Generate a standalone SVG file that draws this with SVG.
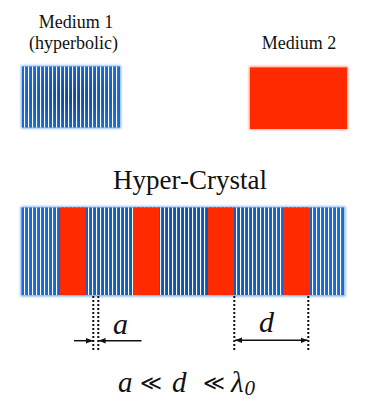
<svg xmlns="http://www.w3.org/2000/svg" width="367" height="420" viewBox="0 0 367 420">
<defs>
<style>
text{font-family:'Liberation Serif','Times New Roman',Tinos,'DejaVu Serif',serif;fill:#111;}
.it{font-style:italic;}
.sym{font-family:'DejaVu Serif','DejaVu Sans',serif;font-style:normal;}
.dot{stroke:#111;stroke-width:2;stroke-dasharray:2 2;fill:none;}
.dim{stroke:#111;stroke-width:1.5;fill:none;}
.red{fill:#ff2a00;}
</style>
<radialGradient id="blueGrad" cx="0.5" cy="0.5" r="0.6">
<stop offset="0" stop-color="#0c47a0"/>
<stop offset="1" stop-color="#1a6ad6"/>
</radialGradient>
<linearGradient id="blueBar" x1="0" y1="0" x2="1" y2="0">
<stop offset="0" stop-color="#1a6ad6"/>
<stop offset="0.5" stop-color="#1052ae"/>
<stop offset="1" stop-color="#1a6ad6"/>
</linearGradient>
<pattern id="stripes" patternUnits="userSpaceOnUse" x="24" y="0" width="4" height="10">
<rect x="0" y="0" width="1.1" height="10" fill="#ffffff"/>
</pattern>
<filter id="glowB" x="-10%" y="-20%" width="120%" height="140%">
<feGaussianBlur stdDeviation="1.3"/>
</filter>
<marker id="ah" viewBox="0 0 10 10" refX="10" refY="5" markerWidth="7" markerHeight="7" markerUnits="userSpaceOnUse" orient="auto-start-reverse">
<path d="M0,1 L10,5 L0,9 Z" fill="#111"/>
</marker>
</defs>
<rect width="367" height="420" fill="#ffffff"/>

<g id="medium1">
<text x="76" y="28" font-size="18" text-anchor="middle">Medium 1</text>
<text x="73.5" y="49" font-size="18" text-anchor="middle">(hyperbolic)</text>
<rect x="21" y="65.5" width="100" height="63" fill="#7aaef0" filter="url(#glowB)"/>
<rect x="22" y="66.5" width="98" height="61" fill="url(#blueGrad)"/>
<rect x="22" y="66.5" width="98" height="61" fill="url(#stripes)"/>
</g>

<g id="medium2">
<text x="299" y="49" font-size="18" text-anchor="middle">Medium 2</text>
<rect x="249" y="66.5" width="99" height="63" fill="#ff8a70" filter="url(#glowB)"/>
<rect x="250" y="67.5" width="97" height="61.5" class="red"/>
</g>

<g id="crystal">
<text x="190" y="189" font-size="27" text-anchor="middle">Hyper-Crystal</text>
<rect x="20.5" y="206.5" width="325" height="90" fill="#7aaef0" filter="url(#glowB)"/>
<rect x="21.5" y="207.5" width="323" height="87.5" fill="url(#blueBar)"/>
<rect x="21.5" y="207.5" width="323" height="87.5" fill="url(#stripes)"/>
<rect x="60" y="207.5" width="26" height="87.5" class="red"/>
<rect x="133.5" y="207.5" width="26" height="87.5" class="red"/>
<rect x="208" y="207.5" width="26" height="87.5" class="red"/>
<rect x="283" y="207.5" width="26" height="87.5" class="red"/>
</g>

<g id="connectors">
<line class="dot" x1="93.3" y1="296" x2="93.3" y2="350"/>
<line class="dot" x1="98.3" y1="296" x2="98.3" y2="350"/>
<line class="dim" x1="74" y1="340.7" x2="93" y2="340.7" marker-end="url(#ah)"/>
<line class="dim" x1="141.5" y1="340.7" x2="98.6" y2="340.7" marker-end="url(#ah)"/>
<line class="dot" x1="234.3" y1="296" x2="234.3" y2="350"/>
<line class="dot" x1="308.3" y1="296" x2="308.3" y2="350"/>
<line class="dim" x1="235" y1="340.3" x2="307.6" y2="340.3" marker-start="url(#ah)" marker-end="url(#ah)"/>
</g>

<g id="labels">
<text class="it" x="113" y="334" font-size="30">a</text>
<text class="it" x="259" y="332" font-size="30">d</text>
<text class="it" x="118" y="392" font-size="29">a</text>
<text class="sym" x="140" y="390" font-size="21">≪</text>
<text class="it" x="172" y="392" font-size="29">d</text>
<text class="sym" x="203" y="390" font-size="21">≪</text>
<text class="it" x="231" y="392" font-size="29">λ<tspan font-size="21" dx="1" dy="3">0</tspan></text>
</g>
</svg>
